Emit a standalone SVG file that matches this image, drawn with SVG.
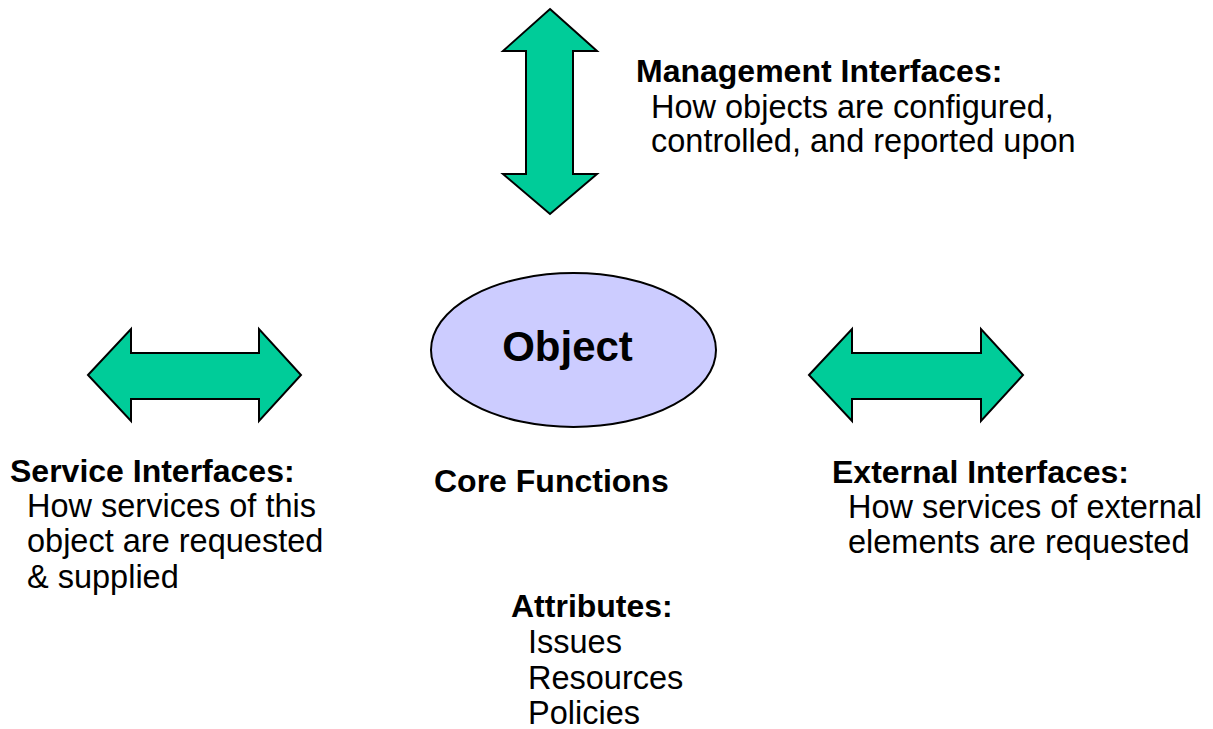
<svg xmlns="http://www.w3.org/2000/svg" width="1213" height="729" viewBox="0 0 1213 729">
<style>
.arrow{fill:#00cc99;stroke:#000;stroke-width:2;stroke-linejoin:miter}
.b{font-family:"Liberation Sans",Arial,sans-serif;font-weight:bold;font-size:32px;fill:#000}
.n{font-family:"Liberation Sans",Arial,sans-serif;font-size:32.5px;fill:#000}
</style>
<rect width="1213" height="729" fill="#fff"/>
<g id="connectors">
<path id="mgmt-arrow" class="arrow" d="M550,9 L597,51 L573,51 L573,174 L597,174 L550,214 L503,174 L526,174 L526,51 L503,51 Z"/>
<path id="service-arrow" class="arrow" d="M88,375 L131,329 L131,353 L259,353 L259,329 L301,375 L259,421 L259,399 L131,399 L131,421 Z"/>
<path id="external-arrow" class="arrow" d="M809,375 L852,329 L852,353 L981,353 L981,329 L1023,375 L981,421 L981,399 L852,399 L852,421 Z"/>
</g>
<g id="object">
<ellipse cx="573.5" cy="350" rx="142.5" ry="77" fill="#ccccff" stroke="#000" stroke-width="2"/>
<text x="567.5" y="361" text-anchor="middle" font-family="Liberation Sans, Arial, sans-serif" font-weight="bold" font-size="42">Object</text>
</g>
<g id="core-functions">
<text class="b" x="434" y="492">Core Functions</text>
</g>
<g id="management">
<text class="b" x="636" y="82">Management Interfaces:</text>
<text class="n" x="651" y="118">How objects are configured,</text>
<text class="n" x="651" y="152">controlled, and reported upon</text>
</g>
<g id="service">
<text class="b" x="10" y="482">Service Interfaces:</text>
<text class="n" x="27" y="517">How services of this</text>
<text class="n" x="27" y="552">object are requested</text>
<text class="n" x="27" y="588">&amp; supplied</text>
</g>
<g id="external">
<text class="b" x="832" y="483">External Interfaces:</text>
<text class="n" x="848" y="518">How services of external</text>
<text class="n" x="848" y="553">elements are requested</text>
</g>
<g id="attributes">
<text class="b" x="511" y="617">Attributes:</text>
<text class="n" x="528" y="653">Issues</text>
<text class="n" x="528" y="689">Resources</text>
<text class="n" x="528" y="724">Policies</text>
</g>
</svg>
